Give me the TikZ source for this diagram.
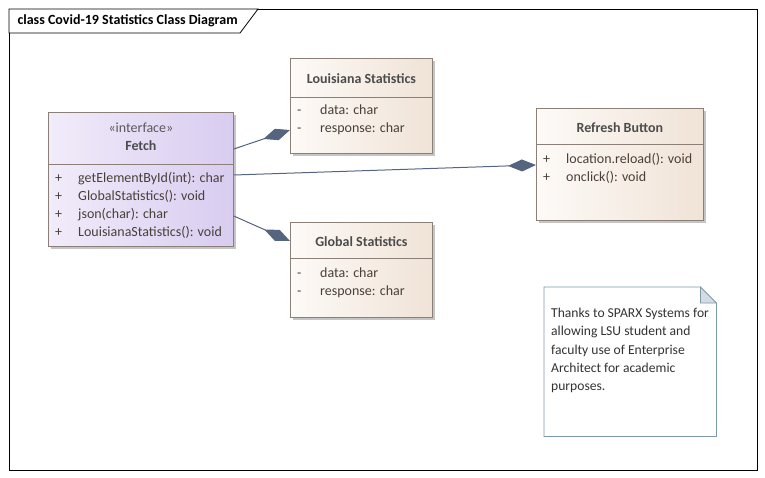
\documentclass[tikz,border=0pt]{standalone}
\usepackage{fontspec}
\setmainfont{Carlito}
\usetikzlibrary{arrows.meta,shadows,positioning}

\definecolor{boxline}{HTML}{8C7F78}
\definecolor{assoccol}{HTML}{56657F}
\definecolor{ifaceleft}{HTML}{F1ECFA}
\definecolor{ifaceright}{HTML}{D8CCF0}
\definecolor{classleft}{HTML}{FDFAF7}
\definecolor{classright}{HTML}{F0E3D7}
\definecolor{noteline}{HTML}{7E98AC}
\definecolor{foldgray}{HTML}{D5DBE3}
\definecolor{txtcol}{HTML}{4A4038}

\begin{document}
\begin{tikzpicture}[x=1pt,y=-1pt,font=\fontsize{14}{16}\selectfont,text=txtcol,
	classbox/.style={draw=boxline,line width=0.8pt,anchor=north west,inner sep=0pt,
		left color=classleft,right color=classright,
		drop shadow={shadow xshift=2.5pt,shadow yshift=-2.5pt,fill=black!45,opacity=0.5}},
	ifacebox/.style={classbox,left color=ifaceleft,right color=ifaceright},
	divider/.style={draw=boxline,line width=0.8pt},
	ctitle/.style={font=\fontsize{14}{16}\selectfont\bfseries,text=black!70},
	member/.style={anchor=base west,inner sep=0pt,yshift=-5.5pt},
	assoc/.style={draw=assoccol,line width=1pt,-{Diamond[length=28pt,width=12pt,fill=assoccol]}}]

	\useasboundingbox (0,0) rectangle (765,478);

	% frame and tab
	\draw[line width=0.8pt] (9,9) rectangle (757,470);
	\draw[line width=0.8pt,fill=white] (9,9) -- (258,9) -- (240,33) -- (9,33) -- cycle;
	\node[anchor=west,font=\fontsize{14}{16}\selectfont\bfseries,text=black] (frametitle) at (14,21) {class Covid-19 Statistics Class Diagram};

	% classes
	\node[ifacebox,minimum width=185,minimum height=134] (fetch) at (48,112) {};
	\node[classbox,minimum width=142,minimum height=95] (lstats) at (290,58) {};
	\node[classbox,minimum width=142,minimum height=95] (gstats) at (290,222) {};
	\node[classbox,minimum width=167,minimum height=112] (refresh) at (536,108) {};

	\draw[divider] (fetch.west |- 0,164) -- (fetch.east |- 0,164);
	\draw[divider] (lstats.west |- 0,97) -- (lstats.east |- 0,97);
	\draw[divider] (gstats.west |- 0,258) -- (gstats.east |- 0,258);
	\draw[divider] (refresh.west |- 0,144) -- (refresh.east |- 0,144);

	\node[text=black!65] (stereo) at (fetch.center |- 0,128) {«interface»};
	\node[ctitle] (fetchname) at (fetch.center |- 0,146) {Fetch};
	\node[ctitle] (lname) at (lstats.center |- 0,79) {Louisiana Statistics};
	\node[ctitle] (gname) at (gstats.center |- 0,242) {Global Statistics};
	\node[ctitle] (rname) at (refresh.center |- 0,128) {Refresh Button};

	% members
	\foreach \y/\m in {177/getElementById(int): char,195/GlobalStatistics(): void,213/json(char): char,231/LouisianaStatistics(): void}{
		\node[member] at (55,\y) {+};
		\node[member] at (78,\y) {\m};
	}
	\foreach \y/\m in {109/data: char,127/response: char}{
		\node[member] at (297,\y) {-};
		\node[member] at (320,\y) {\m};
	}
	\foreach \y/\m in {272/data: char,290/response: char}{
		\node[member] at (297,\y) {-};
		\node[member] at (320,\y) {\m};
	}
	\foreach \y/\m in {158/location.reload(): void,176/onclick(): void}{
		\node[member] at (543,\y) {+};
		\node[member] at (566,\y) {\m};
	}

	% associations
	\path[assoc] (fetch.east |- 0,149) -- (lstats.west |- 0,130);
	\path[assoc] (fetch.east |- 0,175) -- (refresh.west |- 0,165);
	\path[assoc] (fetch.east |- 0,216) -- (gstats.west |- 0,241);

	% note
	\node[anchor=north west,minimum width=172,minimum height=149,inner sep=0pt] (note) at (544,287) {};
	\draw[noteline,line width=0.8pt,fill=white] (note.south west) -- (note.north west) -- ([xshift=-16pt]note.north east)
		-- ([yshift=-16pt]note.north east) -- (note.south east) -- cycle;
	\draw[noteline,line width=0.8pt,fill=foldgray] ([xshift=-16pt]note.north east) -- ([xshift=-16pt,yshift=-16pt]note.north east)
		-- ([yshift=-16pt]note.north east) -- cycle;
	\node[anchor=north west,inner sep=0pt,align=left,font=\fontsize{13.6}{18.2}\selectfont,text=black!80] (notetext) at (551,308)
		{Thanks to SPARX Systems for\\allowing LSU student and\\faculty use of Enterprise\\Architect for academic\\purposes.};
\end{tikzpicture}
\end{document}
